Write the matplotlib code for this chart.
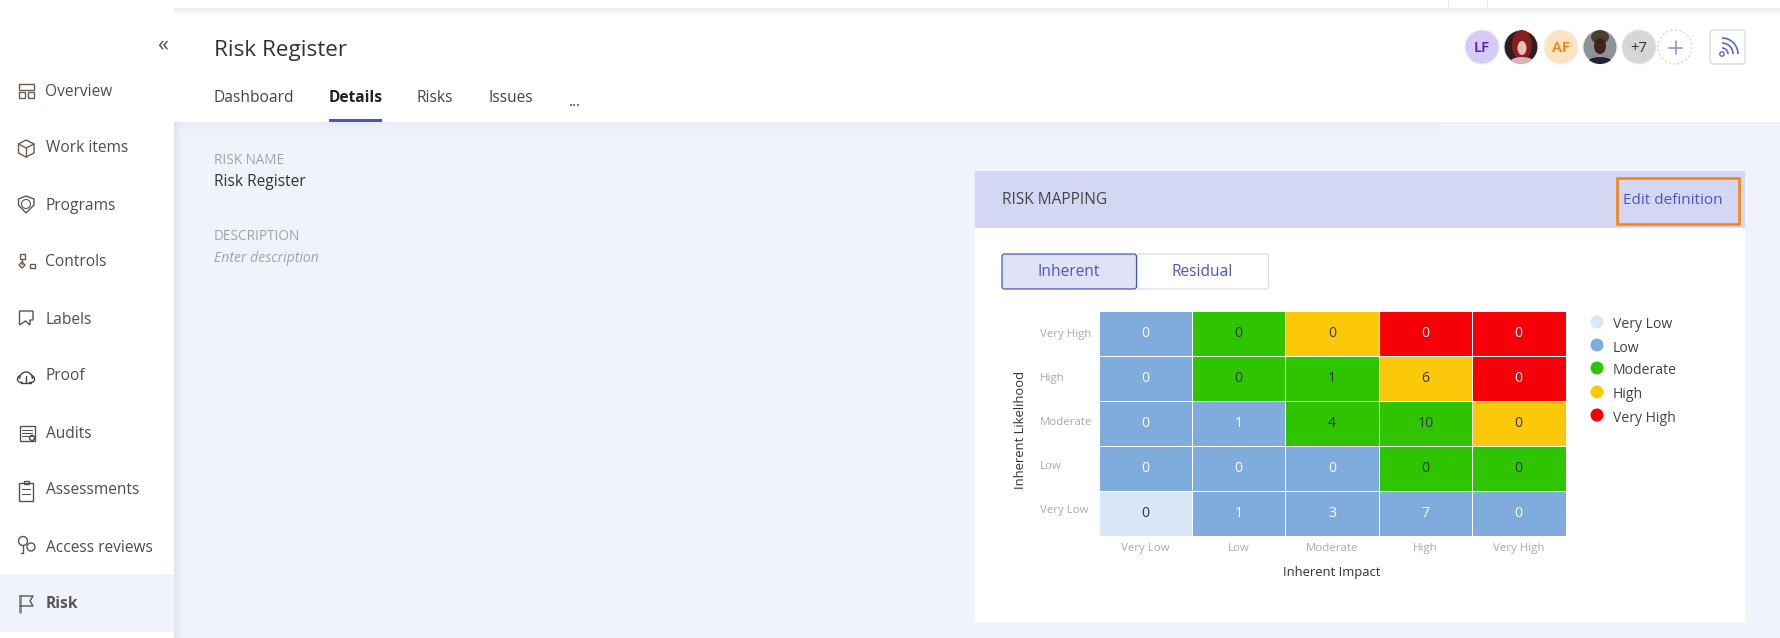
import matplotlib
matplotlib.use("Agg")
import matplotlib.pyplot as plt
from matplotlib import colors
from matplotlib.patches import Circle, Ellipse, FancyBboxPatch, Polygon, Rectangle, Arc
import numpy as np

plt.rcParams['font.family'] = ['Open Sans', 'DejaVu Sans']

# chart data, top row of the picture first
impact_labels = ["Very Low", "Low", "Moderate", "High", "Very High"]
likelihood_labels = ["Very High", "High", "Moderate", "Low", "Very Low"]
level_names = ["Very Low", "Low", "Moderate", "High", "Very High"]
level_colors = ["#d9e8f6", "#7fabdd", "#2fc400", "#fcc90a", "#f50008"]
cell_levels = [[1, 2, 3, 4, 4],
               [1, 2, 2, 3, 4],
               [1, 1, 2, 2, 3],
               [1, 1, 1, 2, 2],
               [0, 1, 1, 1, 1]]
cell_counts = [[0, 0, 0, 0, 0],
               [0, 0, 1, 6, 0],
               [0, 1, 4, 10, 0],
               [0, 0, 0, 0, 0],
               [0, 1, 3, 7, 0]]

# page text
nav_items = ["Overview", "Work items", "Programs", "Controls", "Labels",
             "Proof", "Audits", "Assessments", "Access reviews", "Risk"]
tab_names = ["Dashboard", "Details", "Risks", "Issues", "..."]

W, H = 1780, 638
BG = "#f0f3fc"
BLUE = "#4a55c0"
ICON = "#6a5a50"


def px(size):
    return size * 0.72


fig = plt.figure(figsize=(W / 100, H / 100), dpi=100, facecolor="white")
page = fig.add_axes([0, 0, 1, 1])
page.set_xlim(0, W)
page.set_ylim(H, 0)
page.axis("off")


def label(x, y, s, size=15.5, color="#4d4d4d", **kw):
    kw.setdefault("va", "center")
    # centre of x-height sits lower than the text box centre
    page.text(x, y + 2.5, s, fontsize=px(size), color=color, **kw)


def box(x0, y0, x1, y1, color, **kw):
    page.add_patch(Rectangle((x0, y0), x1 - x0, y1 - y0, facecolor=color, edgecolor="none", **kw))


def outline(x0, y0, w, h, color=ICON):
    page.add_patch(Rectangle((x0, y0), w, h, fill=False, edgecolor=color, lw=1))


def line(xs, ys, color=ICON, lw=1):
    page.plot(xs, ys, color=color, lw=lw, solid_capstyle="round")


# backgrounds
box(174, 122, W, H, BG)
# soft shadows
for i in range(7):
    box(174 + i, 122, 175 + i, H, colors.to_rgba("#c8cee6", 0.35 * (1 - i / 7)))
    box(174, 122 + i * 2, 1440, 124 + i * 2, colors.to_rgba("#c8cee6", 0.18 * (1 - i / 7)))
    box(174, 8 + i, W, 9 + i, colors.to_rgba("#c9c9c9", 0.35 * (1 - i / 7)))
line([1448, 1448], [0, 8], "#ececec")
line([1487, 1487], [0, 8], "#ececec")

# side bar
box(0, 574, 174, 632, BG)
label(163, 43, "«", size=22, color="#555555", ha="center")
nav_y = [89, 146, 204, 260, 317, 374, 432, 488, 546, 602]
for name, y in zip(nav_items, nav_y):
    if name == "Risk":
        label(45.5, y, name, weight="bold", color="#555555")
    else:
        label(45.5, y, name)

# side bar icons
outline(18.5, 84, 15, 5.5)
outline(18.5, 92, 6, 5.5)
outline(27.5, 92, 6, 5.5)
page.add_patch(Polygon([(26, 140), (34, 144), (34, 153), (26, 157), (18.5, 153), (18.5, 144)],
                       fill=False, edgecolor=ICON, lw=1))
line([18.5, 26, 34], [144, 148, 144])
line([26, 26], [148, 157])
page.add_patch(Polygon([(26, 196), (34, 199), (34, 205), (26, 213), (18.5, 205), (18.5, 199)],
                       fill=False, edgecolor="#555555", lw=1))
page.add_patch(Circle((26, 204), 4.5, fill=False, edgecolor="#555555", lw=0.8))
outline(19.5, 254, 5, 5)
outline(29.5, 264, 5, 4)
line([22, 22], [259, 264])
page.add_patch(Polygon([(22, 262), (25, 265), (22, 268), (19, 265)], fill=False, edgecolor=ICON, lw=1))
page.add_patch(Polygon([(19.5, 311), (33, 311), (33, 320), (30, 320), (30, 325), (25.5, 321), (19.5, 325)],
                       fill=False, edgecolor="#555555", lw=1))
page.add_patch(Arc((26, 379), 13, 14, theta1=180, theta2=360, edgecolor="#444444", lw=1))
page.add_patch(Arc((21, 379), 7, 7, theta1=60, theta2=270, edgecolor="#444444", lw=1))
page.add_patch(Arc((31, 379), 7, 7, theta1=270, theta2=120, edgecolor="#444444", lw=1))
line([21, 31], [382.5, 382.5], "#444444")
line([26, 26], [376, 383], "#444444")
outline(19.5, 426, 15, 15, "#555555")
for yy in (430, 433, 436):
    line([22, 32], [yy, yy], "#555555", 0.8)
page.add_patch(Circle((32, 438), 2.5, facecolor="white", edgecolor="#444444", lw=1))
outline(19, 483, 14, 18, "#555555")
outline(23.5, 481, 5, 3, "#555555")
for yy in (489, 494):
    line([22, 30], [yy, yy], "#555555", 0.8)
page.add_patch(Circle((23, 541), 4.5, fill=False, edgecolor="#555555", lw=1))
line([23, 23, 21], [545, 553, 553], "#555555")
page.add_patch(Circle((31, 547), 4, fill=False, edgecolor="#555555", lw=1))
line([20, 20], [596, 612], "#888888", 2)
line([20, 33, 30, 33, 20], [596, 596, 601, 606, 606], "#555555")

# header
label(214, 48, "Risk Register", size=22.5, color="#333333")
tab_x = [213.5, 329, 417, 489, 569]
for name, x in zip(tab_names, tab_x):
    if name == "Details":
        label(x, 96, name, size=15.5, weight="bold", color="#222222")
    else:
        label(x, 96 if name != "..." else 99, name, size=15.5, color="#444444")
box(329, 119, 382, 122, BLUE)

# avatars
page.add_patch(Circle((1482, 47), 17, facecolor="#d7caf6", edgecolor="#ece8fa", lw=0.8))
label(1482, 46, "LF", size=15, color="#4a18cc", weight="semibold", ha="center")
clip = Circle((1521, 47), 17, facecolor="#2b1f22", edgecolor="#e8e8ee", lw=0.8)
page.add_patch(clip)
hair = Ellipse((1522, 45), 20, 30, facecolor="#8a1e1e", edgecolor="none")
face = Ellipse((1522, 48), 9, 14, facecolor="#e3c1b5", edgecolor="none")
top = Ellipse((1522, 62), 24, 10, facecolor="#d9b3bb", edgecolor="none")
for p in (hair, face, top):
    page.add_patch(p)
    p.set_clip_path(clip)
page.add_patch(Circle((1561, 47), 17, facecolor="#fde3c2", edgecolor="#f3f0ee", lw=0.8))
label(1561, 46, "AF", size=15, color="#f57c0a", weight="semibold", ha="center")
clip2 = Circle((1600, 47), 17, facecolor="#8f9298", edgecolor="#e8e8ee", lw=0.8)
page.add_patch(clip2)
hair2 = Ellipse((1600, 37), 18, 14, facecolor="#4a4030", edgecolor="none")
face2 = Ellipse((1600, 46), 12, 16, facecolor="#3c2418", edgecolor="none")
top2 = Ellipse((1600, 63), 26, 12, facecolor="#26242a", edgecolor="none")
for p in (hair2, face2, top2):
    page.add_patch(p)
    p.set_clip_path(clip2)
page.add_patch(Circle((1639, 47), 17, facecolor="#d6d6d6", edgecolor="#eaeaf0", lw=0.8))
label(1639, 46, "+7", size=15, color="#333333", ha="center")
page.add_patch(Circle((1675, 47), 17, facecolor="white", edgecolor="#cfcfd6", lw=0.8, ls=(0, (2, 2))))
line([1669, 1682], [47.5, 47.5], "#8f97d8", 1.2)
line([1675.5, 1675.5], [41, 54], "#8f97d8", 1.2)
page.add_patch(FancyBboxPatch((1712, 32), 31, 30, boxstyle="round,pad=2,rounding_size=3",
                              facecolor="white", edgecolor="#d8d8de", lw=0.9))
for r in (6, 11, 16):
    page.add_patch(Arc((1722, 54), 2 * r, 2 * r, theta1=270, theta2=360, edgecolor="#5a66c8", lw=1.2))
page.add_patch(Circle((1722, 54), 2.2, fill=False, edgecolor="#5a66c8", lw=1))

# left details
label(214, 158.5, "RISK NAME", size=13.5, color="#a3a3a3")
label(214, 179.5, "Risk Register", size=15.5, color="#333333")
label(214, 233.5, "DESCRIPTION", size=13.5, color="#a3a3a3")
label(214, 255.5, "Enter description", size=14, color="#a3a3a3", style="italic")

# panel
box(975, 171, 1745, 622, "white")
box(975, 171, 1745, 228, "#d3d7f3")
label(1002, 197.5, "RISK MAPPING", size=15.5, color="#444444")
label(1623, 198, "Edit definition", size=15.2, color=BLUE)
page.add_patch(Rectangle((1617, 177.5), 122, 46, fill=False, edgecolor="#fb8411", lw=1.9))
page.add_patch(FancyBboxPatch((1138, 255), 129.5, 33, boxstyle="round,pad=1,rounding_size=2.5",
                              facecolor="white", edgecolor="#dcdce2", lw=0.9))
page.add_patch(FancyBboxPatch((1003, 255), 132.5, 33, boxstyle="round,pad=1,rounding_size=2.5",
                              facecolor="#e0e2f5", edgecolor=BLUE, lw=0.9))
label(1069, 269.5, "Inherent", size=15.5, color=BLUE, ha="center")
label(1202, 269.5, "Residual", size=15.5, color=BLUE, ha="center")

# heatmap
ax = fig.add_axes([1098.5 / W, 1 - 535.5 / H, 467 / W, 225 / H])
cmap = colors.ListedColormap(level_colors)
ax.pcolormesh(np.array(cell_levels), cmap=cmap, vmin=-0.5, vmax=4.5, edgecolors="white", linewidth=0.6)
ax.set_ylim(5, 0)
for i, row in enumerate(cell_counts):
    for j, val in enumerate(row):
        lvl = cell_levels[i][j]
        col = "white" if lvl in (1, 4) else "#333333"
        ax.text(j + 0.5, i + 0.52, str(val), ha="center", va="center", fontsize=px(14), color=col)
for s in ax.spines.values():
    s.set_visible(False)
ax.set_xticks(np.arange(5) + 0.5, impact_labels, fontsize=px(11.5), color="#aaaaaa")
# the row labels sit a little above the cell centres, more so lower down
ax.set_yticks(np.arange(5) + 0.5 - np.arange(5) * 0.022, likelihood_labels, fontsize=px(11.5), color="#aaaaaa")
ax.tick_params(length=0)
ax.tick_params(axis="x", pad=5.5)
ax.tick_params(axis="y", pad=42)
for t in ax.get_yticklabels():
    t.set_ha("left")
ax.set_xlabel("Inherent Impact", fontsize=px(13), color="#333333", labelpad=8.5)
ax.set_ylabel("Inherent Likelihood", fontsize=px(13), color="#333333")
ax.yaxis.set_label_coords(-71 / 467, 0.47)

# legend
legend_y = [322, 345, 368, 392, 415]
for name, col, y in zip(level_names, level_colors, legend_y):
    page.add_patch(Circle((1597, y), 6.5, facecolor=col, edgecolor="none"))
    label(1613, y + 0.5, name, size=14, color="#444444")

fig.savefig("out.png", dpi=100, facecolor="white")
